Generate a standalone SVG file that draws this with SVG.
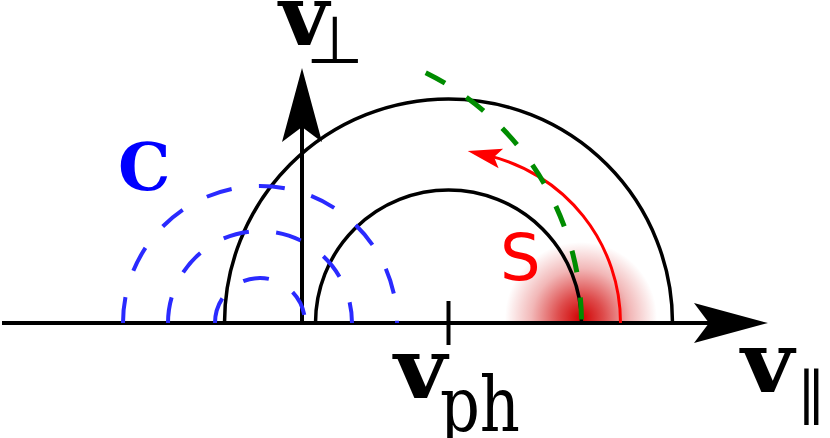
<svg xmlns="http://www.w3.org/2000/svg" width="830" height="438" viewBox="0 0 830 438">
<style>
.ax{stroke:#000;stroke-width:4;fill:none}
.blk{stroke:#000;stroke-width:3.5;fill:none}
.blue{stroke:#2a2aff;stroke-width:4;fill:none;stroke-dasharray:26 27.5}
.green{stroke:#008c00;stroke-width:5;fill:none;stroke-dasharray:22 25.5}
.red{stroke:#ff0000;stroke-width:3;fill:none}
.vb{font-family:"DejaVu Serif","Liberation Serif",serif;font-weight:bold;font-size:84px;fill:#000}
.sub{font-family:"DejaVu Serif","Liberation Serif",serif;font-size:76px;fill:#000}
</style>
<defs>
<marker id="ah" markerUnits="userSpaceOnUse" markerWidth="80" markerHeight="50" refX="40" refY="0" orient="auto" overflow="visible">
<path d="M0,-20 L74,0 L0,20 L15,0 Z" fill="#000"/>
</marker>
<marker id="ahr" markerUnits="userSpaceOnUse" markerWidth="40" markerHeight="30" refX="14" refY="0" orient="auto" overflow="visible">
<path d="M0,-10 L34,0 L0,10 L7,0 Z" fill="#ff0000"/>
</marker>
<radialGradient id="glow" cx="0.5" cy="0.5" r="0.5">
<stop offset="0" stop-color="#d00000" stop-opacity="1"/>
<stop offset="0.3" stop-color="#d00000" stop-opacity="0.7"/>
<stop offset="0.65" stop-color="#d00000" stop-opacity="0.28"/>
<stop offset="1" stop-color="#d00000" stop-opacity="0"/>
</radialGradient>
<clipPath id="above"><rect x="0" y="0" width="830" height="323"/></clipPath>
</defs>
<g id="glow-region" clip-path="url(#above)">
<circle cx="581" cy="318" r="76" fill="url(#glow)"/>
</g>
<g id="shells">
<path class="blk" d="M224.5,323 A224,224 0 0 1 672.5,323"/>
<path class="blk" d="M315.5,323 A133,133 0 0 1 581.5,323"/>
</g>
<g id="connectors">
<path class="ax" d="M2,323 H734" marker-end="url(#ah)"/>
<path class="ax" d="M302,323 V102" stroke-width="3.5" marker-end="url(#ah)"/>
<line class="ax" x1="448.5" y1="301" x2="448.5" y2="345" stroke-width="3.5"/>
<path class="red" d="M620.5,323 A172,172 0 0 0 487.2,155.4" marker-end="url(#ahr)"/>
</g>
<g id="cyclotron">
<path class="blue" d="M123,323 A137,137 0 0 1 397,323"/>
<path class="blue" d="M168,323 A92,92 0 0 1 352,323"/>
<path class="blue" d="M215,323 A45,45 0 0 1 305,323"/>
</g>
<g id="resonance">
<path class="green" d="M425.7,72.7 A279,279 0 0 1 581.5,323"/>
</g>
<g id="labels">
<text x="279" y="45" class="vb" textLength="50" lengthAdjust="spacingAndGlyphs">v</text>
<text x="306" y="63" font-family="DejaVu Sans, sans-serif" font-size="66" fill="#000">⊥</text>
<text x="394" y="398" class="vb" textLength="53" lengthAdjust="spacingAndGlyphs">v</text>
<text x="440" y="431" class="sub" textLength="80" lengthAdjust="spacingAndGlyphs">ph</text>
<text x="741" y="392" class="vb" textLength="53" lengthAdjust="spacingAndGlyphs">v</text>
<text x="797" y="412" font-family="DejaVu Serif, serif" font-size="56" letter-spacing="-9" fill="#000">||</text>
<text x="118" y="190" font-family="DejaVu Serif, serif" font-weight="bold" font-size="66" fill="#0000ff">C</text>
<text x="500" y="280" font-family="DejaVu Sans, sans-serif" font-size="64" fill="#ff0000">S</text>
</g>
</svg>
